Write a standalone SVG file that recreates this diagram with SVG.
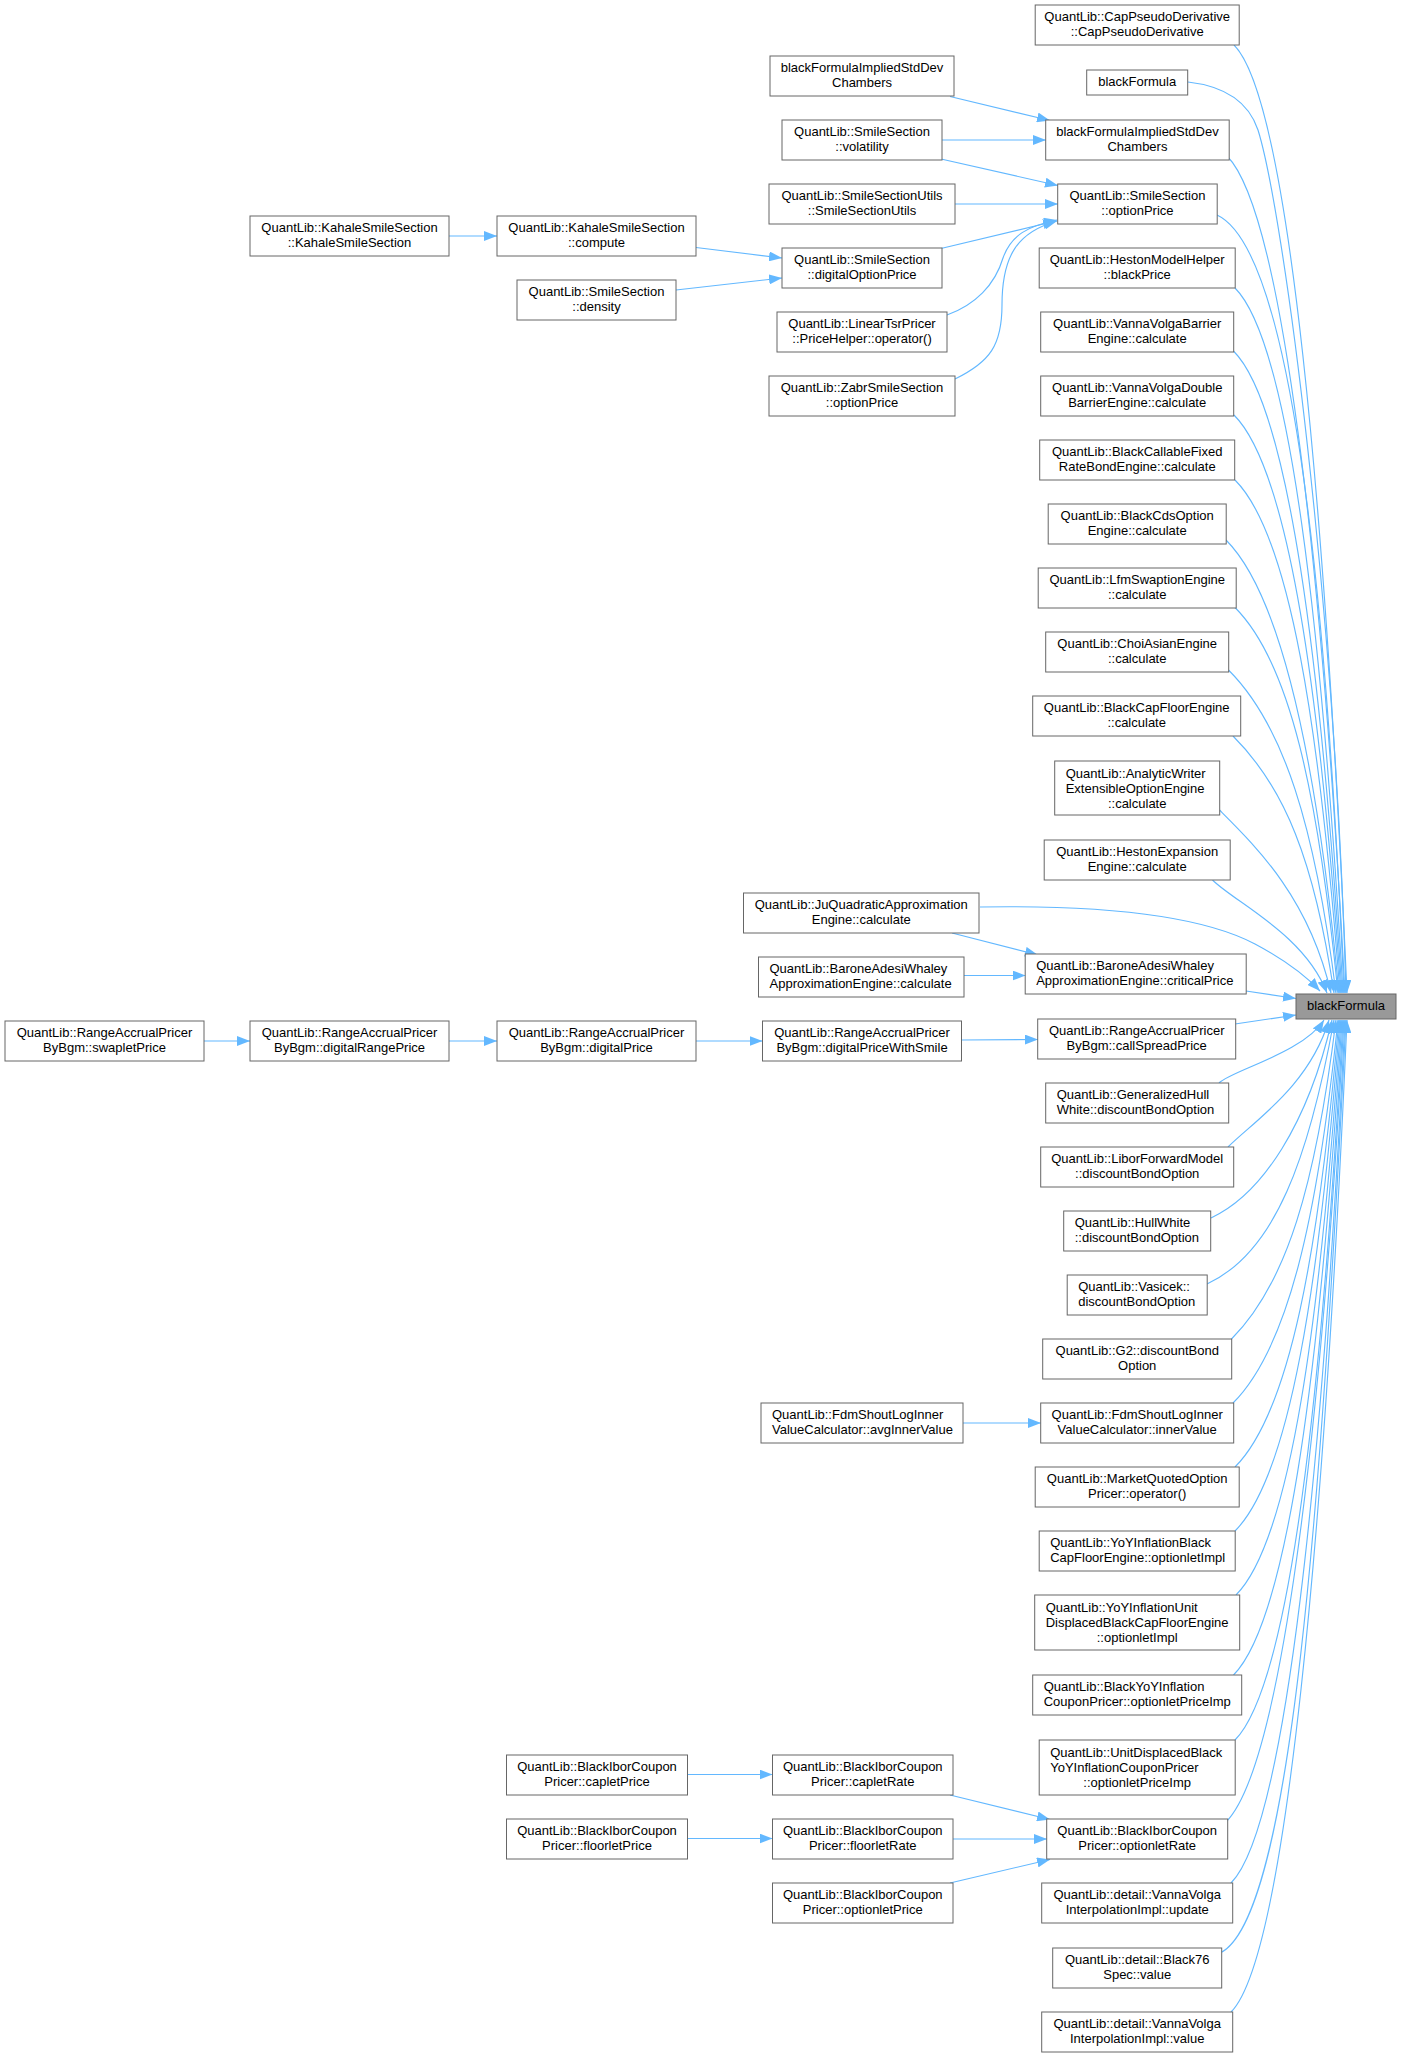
<svg xmlns="http://www.w3.org/2000/svg" width="1401" height="2056" viewBox="0 0 1401 2056">
<defs>
<style>
.node rect{fill:#ffffff;stroke:#666666;stroke-width:1}
#blackFormula rect{fill:#999999}
text{font-family:"Liberation Sans",Arial,Helvetica,sans-serif;font-size:13px;fill:#000000;text-anchor:middle}
text.l{text-anchor:start}
#edges path{fill:none;stroke:#63b8ff;stroke-width:1.15;marker-end:url(#arr)}
</style>
<marker id="arr" markerUnits="userSpaceOnUse" markerWidth="13" markerHeight="10" viewBox="0 0 13 10" refX="13" refY="5" orient="auto"><path d="M0,0 L13,5 L0,10 z" fill="#63b8ff"/></marker>
</defs>
<rect x="0" y="0" width="1401" height="2056" fill="#ffffff"/>
<g id="edges">
<path d="M1234,45 C1289,100 1324.8,500 1347,993"/>
<path d="M1188,82 C1223,86 1248,100 1258,130 C1283,210 1335,600 1346,993"/>
<path d="M1227,156 C1282,211 1321.8,557.8 1345,993"/>
<path d="M1217,215 C1288.5,248 1325,560 1344,993"/>
<path d="M1235,288 C1290,343 1321.8,626.4 1343,993"/>
<path d="M1233.5,351 C1288.5,406 1320.7,659.2 1342,993"/>
<path d="M1234,415 C1289,470 1320,692.4 1341,993"/>
<path d="M1235,480 C1290,535 1319.4,726.2 1340,993"/>
<path d="M1226,540 C1281,595 1316.8,757.4 1339,993"/>
<path d="M1235,607.5 C1290,662.5 1317.8,792.5 1338,993"/>
<path d="M1228.5,670 C1283.5,725 1314.9,825 1336,993"/>
<path d="M1233,736 C1284.4,787.4 1314.2,859.4 1334,993"/>
<path d="M1219.5,810 C1256.1,846.6 1309.1,897.8 1331,993"/>
<path d="M1212.5,880 C1235.1,902.6 1304.5,934.2 1327,993"/>
<path d="M980,907 C1100,905 1200,915 1255,944 C1285,960 1305,975 1320,991"/>
<path d="M1246,991 L1296,998.5"/>
<path d="M1235,1024 L1296,1015"/>
<path d="M1219,1083 C1231.6,1070.4 1303.4,1052.8 1324,1020"/>
<path d="M1228,1147 C1253.4,1121.6 1309.2,1086 1329,1020"/>
<path d="M1211,1218 C1262.5,1194.2 1308.2,1123 1332,1020"/>
<path d="M1207,1284 C1275.6,1252.3 1309,1157.3 1334,1020"/>
<path d="M1231.5,1339 C1286.5,1284 1315.5,1185.9 1336,1020"/>
<path d="M1233,1403 C1288,1348 1317.4,1219.2 1338,1020"/>
<path d="M1235,1467 C1290,1412 1318.6,1252.4 1339,1020"/>
<path d="M1235,1531 C1290,1476 1319.4,1285.7 1340,1020"/>
<path d="M1236,1595 C1291,1540 1320.4,1319 1341,1020"/>
<path d="M1233.5,1675 C1288.5,1620 1320.7,1360.6 1342,1020"/>
<path d="M1235,1740 C1290,1685 1321.8,1394.4 1343,1020"/>
<path d="M1226,1822 C1281,1767 1320.8,1437 1344,1020"/>
<path d="M1231,1883 C1286,1828 1322.6,1468.8 1345,1020"/>
<path d="M1220,1953 C1291.5,1920 1321.2,1505.2 1346,1020"/>
<path d="M1231,2012 C1286,1957 1324.2,1535.8 1347,1020"/>
<path d="M950,96.5 L1050,120.5"/>
<path d="M942,140 L1046,140"/>
<path d="M941,159 L1058,185.5"/>
<path d="M955,204 L1058,204"/>
<path d="M941,248.5 L1056,221"/>
<path d="M947,315 C975,305 995,285 1003,258 C1011,235 1028,226 1057,220"/>
<path d="M955,379 C990,362 1002,345 1002,305 C1002,255 1018,232 1057,221"/>
<path d="M449,236 L497,236"/>
<path d="M696,247.5 L782,258"/>
<path d="M676,290 L782,278"/>
<path d="M952,933 L1038,955"/>
<path d="M964,975.5 L1025.5,975.5"/>
<path d="M204,1041 L250,1041"/>
<path d="M449,1041 L497,1041"/>
<path d="M696,1041 L762.5,1041"/>
<path d="M961.5,1040 L1038,1039.5"/>
<path d="M963,1423 L1041,1423"/>
<path d="M687.5,1774.5 L772.5,1774.5"/>
<path d="M687.5,1838.5 L772.5,1838.5"/>
<path d="M950,1795 L1050,1819.5"/>
<path d="M953,1839 L1047,1839"/>
<path d="M950,1883 L1050,1859.5"/>
</g>
<g id="blackFormula" class="node"><rect x="1296" y="994" width="100" height="25"/><text x="1346" y="1010">blackFormula</text></g>
<g id="rank1" transform="translate(-2.3,0)">
<g id="capPseudoDerivative" class="node"><rect x="1037.5" y="5" width="204" height="40"/><text x="1139.5" y="21.3">QuantLib::CapPseudoDerivative</text><text x="1139.5" y="36">::CapPseudoDerivative</text></g>
<g id="blackFormulaOverload" class="node"><rect x="1089" y="70" width="101" height="25"/><text x="1139.5" y="86">blackFormula</text></g>
<g id="chambersRight" class="node"><rect x="1048" y="120" width="183.5" height="40"/><text x="1139.75" y="136.3">blackFormulaImpliedStdDev</text><text x="1139.75" y="151">Chambers</text></g>
<g id="smileOptionPrice" class="node"><rect x="1060" y="184" width="159.5" height="40"/><text x="1139.75" y="200.3">QuantLib::SmileSection</text><text x="1139.75" y="215">::optionPrice</text></g>
<g id="hestonModelHelper" class="node"><rect x="1041.5" y="248" width="196" height="40"/><text x="1139.5" y="264.3">QuantLib::HestonModelHelper</text><text x="1139.5" y="279">::blackPrice</text></g>
<g id="vannaVolgaBarrier" class="node"><rect x="1043" y="312" width="193" height="40"/><text x="1139.5" y="328.3">QuantLib::VannaVolgaBarrier</text><text x="1139.5" y="343">Engine::calculate</text></g>
<g id="vannaVolgaDouble" class="node"><rect x="1043" y="376" width="193" height="40"/><text x="1139.5" y="392.3">QuantLib::VannaVolgaDouble</text><text x="1139.5" y="407">BarrierEngine::calculate</text></g>
<g id="blackCallable" class="node"><rect x="1042" y="440" width="195" height="40"/><text x="1139.5" y="456.3">QuantLib::BlackCallableFixed</text><text x="1139.5" y="471">RateBondEngine::calculate</text></g>
<g id="blackCds" class="node"><rect x="1050.5" y="504" width="178" height="40"/><text x="1139.5" y="520.3">QuantLib::BlackCdsOption</text><text x="1139.5" y="535">Engine::calculate</text></g>
<g id="lfmSwaption" class="node"><rect x="1040.5" y="568" width="198" height="40"/><text x="1139.5" y="584.3">QuantLib::LfmSwaptionEngine</text><text x="1139.5" y="599">::calculate</text></g>
<g id="choiAsian" class="node"><rect x="1048" y="632" width="183" height="40"/><text x="1139.5" y="648.3">QuantLib::ChoiAsianEngine</text><text x="1139.5" y="663">::calculate</text></g>
<g id="blackCapFloor" class="node"><rect x="1035" y="696" width="208" height="40"/><text x="1139" y="712.3">QuantLib::BlackCapFloorEngine</text><text x="1139" y="727">::calculate</text></g>
<g id="analyticWriter" class="node"><rect x="1057" y="761" width="165" height="54"/><text class="l" x="1068" y="778.3">QuantLib::AnalyticWriter</text><text class="l" x="1068" y="793">ExtensibleOptionEngine</text><text x="1139.5" y="807.5">::calculate</text></g>
<g id="hestonExpansion" class="node"><rect x="1046.5" y="840" width="186" height="40"/><text x="1139.5" y="856.3">QuantLib::HestonExpansion</text><text x="1139.5" y="871">Engine::calculate</text></g>
<g id="criticalPrice" class="node"><rect x="1027.5" y="954" width="221" height="40"/><text class="l" x="1038.5" y="970.3">QuantLib::BaroneAdesiWhaley</text><text class="l" x="1038.5" y="985">ApproximationEngine::criticalPrice</text></g>
<g id="callSpreadPrice" class="node"><rect x="1040" y="1019" width="198" height="40"/><text x="1139" y="1035.3">QuantLib::RangeAccrualPricer</text><text x="1139" y="1050">ByBgm::callSpreadPrice</text></g>
<g id="generalizedHullWhite" class="node"><rect x="1048" y="1083" width="183" height="40"/><text class="l" x="1059" y="1099.3">QuantLib::GeneralizedHull</text><text class="l" x="1059" y="1114">White::discountBondOption</text></g>
<g id="liborForwardModel" class="node"><rect x="1043" y="1147" width="193" height="40"/><text x="1139.5" y="1163.3">QuantLib::LiborForwardModel</text><text x="1139.5" y="1178">::discountBondOption</text></g>
<g id="hullWhite" class="node"><rect x="1066" y="1211" width="147" height="40"/><text class="l" x="1077" y="1227.3">QuantLib::HullWhite</text><text class="l" x="1077" y="1242">::discountBondOption</text></g>
<g id="vasicek" class="node"><rect x="1069.5" y="1275" width="140" height="40"/><text class="l" x="1080.5" y="1291.3">QuantLib::Vasicek::</text><text class="l" x="1080.5" y="1306">discountBondOption</text></g>
<g id="g2" class="node"><rect x="1045" y="1339" width="189" height="40"/><text x="1139.5" y="1355.3">QuantLib::G2::discountBond</text><text x="1139.5" y="1370">Option</text></g>
<g id="innerValue" class="node"><rect x="1043" y="1403" width="193" height="40"/><text x="1139.5" y="1419.3">QuantLib::FdmShoutLogInner</text><text x="1139.5" y="1434">ValueCalculator::innerValue</text></g>
<g id="marketQuoted" class="node"><rect x="1037.5" y="1467" width="204" height="40"/><text x="1139.5" y="1483.3">QuantLib::MarketQuotedOption</text><text x="1139.5" y="1498">Pricer::operator()</text></g>
<g id="yoyInflationBlack" class="node"><rect x="1041.5" y="1531" width="196" height="40"/><text class="l" x="1052.5" y="1547.3">QuantLib::YoYInflationBlack</text><text class="l" x="1052.5" y="1562">CapFloorEngine::optionletImpl</text></g>
<g id="yoyInflationUnit" class="node"><rect x="1037" y="1595" width="205" height="55"/><text class="l" x="1048" y="1612.3">QuantLib::YoYInflationUnit</text><text class="l" x="1048" y="1627">DisplacedBlackCapFloorEngine</text><text x="1139.5" y="1641.7">::optionletImpl</text></g>
<g id="blackYoYInflation" class="node"><rect x="1035" y="1675" width="209" height="40"/><text class="l" x="1046" y="1691.3">QuantLib::BlackYoYInflation</text><text class="l" x="1046" y="1706">CouponPricer::optionletPriceImp</text></g>
<g id="unitDisplacedBlack" class="node"><rect x="1041.5" y="1740" width="196" height="55"/><text class="l" x="1052.5" y="1757.3">QuantLib::UnitDisplacedBlack</text><text class="l" x="1052.5" y="1772">YoYInflationCouponPricer</text><text x="1139.5" y="1786.7">::optionletPriceImp</text></g>
<g id="optionletRate" class="node"><rect x="1049" y="1819" width="181" height="40"/><text x="1139.5" y="1835.3">QuantLib::BlackIborCoupon</text><text x="1139.5" y="1850">Pricer::optionletRate</text></g>
<g id="vvUpdate" class="node"><rect x="1044" y="1883" width="191" height="40"/><text x="1139.5" y="1899.3">QuantLib::detail::VannaVolga</text><text x="1139.5" y="1914">InterpolationImpl::update</text></g>
<g id="black76Spec" class="node"><rect x="1055" y="1948" width="169" height="40"/><text x="1139.5" y="1964.3">QuantLib::detail::Black76</text><text x="1139.5" y="1979">Spec::value</text></g>
<g id="vvValue" class="node"><rect x="1044" y="2012" width="191" height="40"/><text x="1139.5" y="2028.3">QuantLib::detail::VannaVolga</text><text x="1139.5" y="2043">InterpolationImpl::value</text></g>
</g>
<g id="chambersLeft" class="node"><rect x="770" y="56" width="184" height="40"/><text x="862" y="72.3">blackFormulaImpliedStdDev</text><text x="862" y="87">Chambers</text></g>
<g id="smileVolatility" class="node"><rect x="782" y="120" width="160" height="40"/><text x="862" y="136.3">QuantLib::SmileSection</text><text x="862" y="151">::volatility</text></g>
<g id="smileSectionUtils" class="node"><rect x="769" y="184" width="186" height="40"/><text x="862" y="200.3">QuantLib::SmileSectionUtils</text><text x="862" y="215">::SmileSectionUtils</text></g>
<g id="digitalOptionPrice" class="node"><rect x="782" y="248" width="160" height="40"/><text x="862" y="264.3">QuantLib::SmileSection</text><text x="862" y="279">::digitalOptionPrice</text></g>
<g id="linearTsrPricer" class="node"><rect x="777" y="312" width="170" height="40"/><text x="862" y="328.3">QuantLib::LinearTsrPricer</text><text x="862" y="343">::PriceHelper::operator()</text></g>
<g id="zabrOptionPrice" class="node"><rect x="769" y="376" width="186" height="40"/><text x="862" y="392.3">QuantLib::ZabrSmileSection</text><text x="862" y="407">::optionPrice</text></g>
<g id="juQuadratic" class="node"><rect x="743.5" y="893" width="235.5" height="40"/><text x="861.25" y="909.3">QuantLib::JuQuadraticApproximation</text><text x="861.25" y="924">Engine::calculate</text></g>
<g id="baroneCalculate" class="node"><rect x="758.5" y="957" width="205.5" height="40"/><text class="l" x="769.5" y="973.3">QuantLib::BaroneAdesiWhaley</text><text class="l" x="769.5" y="988">ApproximationEngine::calculate</text></g>
<g id="digitalPriceWithSmile" class="node"><rect x="762.5" y="1021" width="199" height="40"/><text x="862" y="1037.3">QuantLib::RangeAccrualPricer</text><text x="862" y="1052">ByBgm::digitalPriceWithSmile</text></g>
<g id="avgInnerValue" class="node"><rect x="761" y="1403" width="202" height="40"/><text class="l" x="772" y="1419.3">QuantLib::FdmShoutLogInner</text><text class="l" x="772" y="1434">ValueCalculator::avgInnerValue</text></g>
<g id="capletRate" class="node"><rect x="772.5" y="1755" width="180.5" height="40"/><text x="862.75" y="1771.3">QuantLib::BlackIborCoupon</text><text x="862.75" y="1786">Pricer::capletRate</text></g>
<g id="floorletRate" class="node"><rect x="772.5" y="1819" width="180.5" height="40"/><text x="862.75" y="1835.3">QuantLib::BlackIborCoupon</text><text x="862.75" y="1850">Pricer::floorletRate</text></g>
<g id="optionletPrice" class="node"><rect x="772.5" y="1883" width="180.5" height="40"/><text x="862.75" y="1899.3">QuantLib::BlackIborCoupon</text><text x="862.75" y="1914">Pricer::optionletPrice</text></g>
<g id="kahaleCompute" class="node"><rect x="497" y="216" width="199" height="40"/><text x="596.5" y="232.3">QuantLib::KahaleSmileSection</text><text x="596.5" y="247">::compute</text></g>
<g id="smileDensity" class="node"><rect x="517" y="280" width="159" height="40"/><text x="596.5" y="296.3">QuantLib::SmileSection</text><text x="596.5" y="311">::density</text></g>
<g id="digitalPrice" class="node"><rect x="497" y="1021" width="199" height="40"/><text x="596.5" y="1037.3">QuantLib::RangeAccrualPricer</text><text x="596.5" y="1052">ByBgm::digitalPrice</text></g>
<g id="capletPrice" class="node"><rect x="506.5" y="1755" width="181" height="40"/><text x="597" y="1771.3">QuantLib::BlackIborCoupon</text><text x="597" y="1786">Pricer::capletPrice</text></g>
<g id="floorletPrice" class="node"><rect x="506.5" y="1819" width="181" height="40"/><text x="597" y="1835.3">QuantLib::BlackIborCoupon</text><text x="597" y="1850">Pricer::floorletPrice</text></g>
<g id="kahaleCtor" class="node"><rect x="250" y="216" width="199" height="40"/><text x="349.5" y="232.3">QuantLib::KahaleSmileSection</text><text x="349.5" y="247">::KahaleSmileSection</text></g>
<g id="digitalRangePrice" class="node"><rect x="250" y="1021" width="199" height="40"/><text x="349.5" y="1037.3">QuantLib::RangeAccrualPricer</text><text x="349.5" y="1052">ByBgm::digitalRangePrice</text></g>
<g id="swapletPrice" class="node"><rect x="5" y="1021" width="199" height="40"/><text x="104.5" y="1037.3">QuantLib::RangeAccrualPricer</text><text x="104.5" y="1052">ByBgm::swapletPrice</text></g>
</svg>
